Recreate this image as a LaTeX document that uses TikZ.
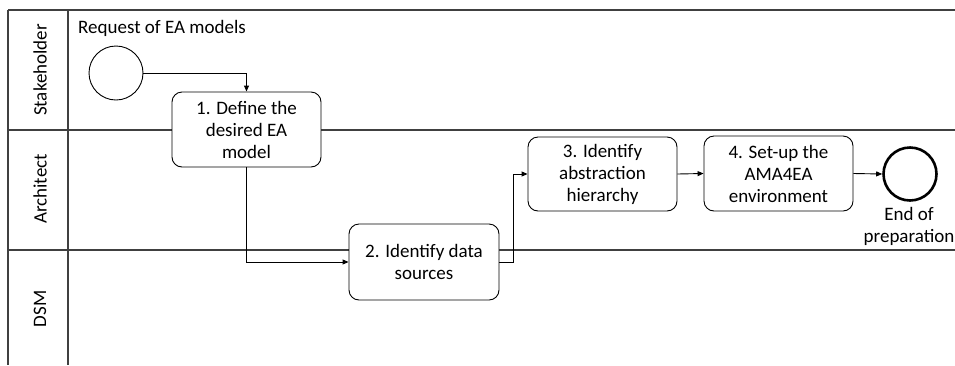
\documentclass[tikz,border=0pt]{standalone}
\usepackage{fontspec}
\setmainfont{Carlito}
\usetikzlibrary{arrows.meta}
\begin{document}
\begin{tikzpicture}[x=1pt,y=-1pt,
  lane/.style={draw=black!75, line width=1.3pt},
  task/.style={draw, rounded corners=10pt, fill=white, align=center, line width=0.9pt,
    minimum width=149pt, minimum height=75pt, inner sep=2pt, font=\fontsize{19}{22}\selectfont},
  lbl/.style={font=\fontsize{19}{22}\selectfont, align=center, inner sep=0pt},
  flow/.style={draw, line width=0.9pt, -{Triangle[length=6pt,width=5pt]}}]
\useasboundingbox (0,0) rectangle (955,365);
% lanes
\draw[lane] (8,10) -- (955,10);
\draw[lane] (8,10) -- (8,365);
\draw[lane] (68,10) -- (68,365);
\draw[lane] (8,130) -- (955,130);
\draw[lane] (8,250) -- (955,250);
\node[lbl, rotate=90] (lS) at (40,70) {Stakeholder};
\node[lbl, rotate=90] (lA) at (40,189) {Architect};
\node[lbl, rotate=90] (lD) at (40,309) {DSM};
% events
\node[circle, draw, line width=0.9pt, minimum size=54pt, inner sep=0pt] (start) at (116,73) {};
\node[lbl] (req) at (162,28) {Request of EA models};
\node[circle, draw, line width=2.6pt, minimum size=53pt, inner sep=0pt] (end) at (910,174) {};
\node[lbl] (endl) at (909,226) {End of\\preparation};
% tasks
\node[task] (t1) at (246.5,129.5) {1. Define the\\desired EA\\model};
\node[task, minimum width=150pt, minimum height=76pt] (t2) at (424,262) {2. Identify data\\sources};
\node[task, minimum height=74pt] (t3) at (602.5,174) {3. Identify\\abstraction\\hierarchy};
\node[task] (t4) at (778.5,173.5) {4. Set-up the\\AMA4EA\\environment};
% flows
\draw[flow] (start.east) -| (t1.north);
\draw[flow] (t1.south) |- (t2.west);
\coordinate (bend) at (513,262);
\draw[flow] (t2.east) -- (bend) |- (t3.west);
\draw[flow] (t3.east) -- (t4.west);
\draw[flow] (t4.east) -- (end.west);
\end{tikzpicture}
\end{document}
